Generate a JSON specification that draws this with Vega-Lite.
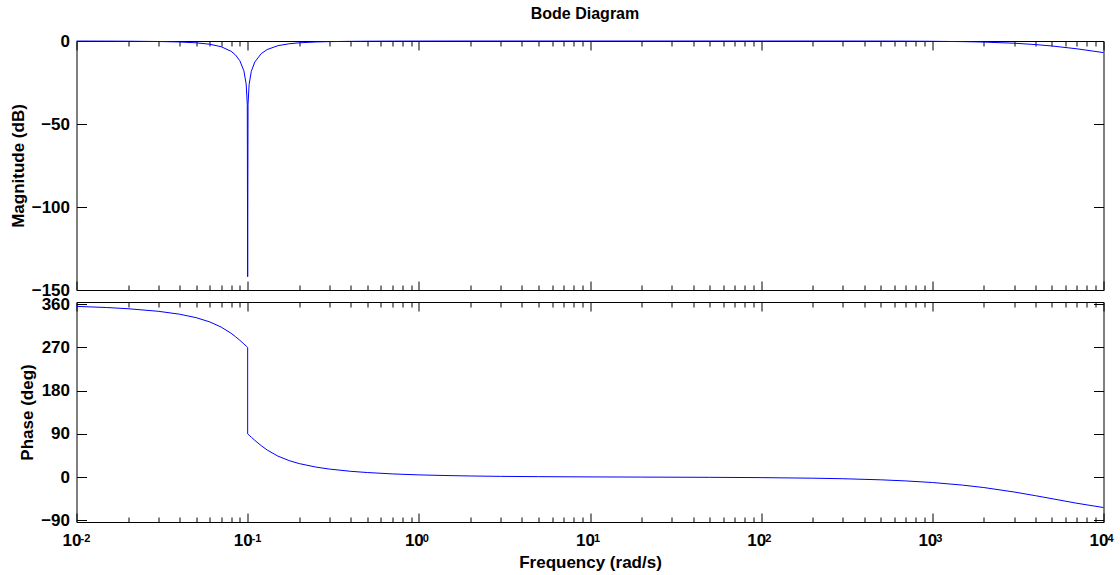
{
  "$schema": "https://vega.github.io/schema/vega-lite/v6.json",
  "background": "white",
  "padding": {"left": 8.5, "top": 5, "right": 0, "bottom": 0},
  "datasets": {
    "bode": [
      {"i": 1, "w": 0.01, "mag": -0.028, "ph": 355.4},
      {"i": 2, "w": 0.015, "mag": -0.065, "ph": 353.0},
      {"i": 3, "w": 0.02, "mag": -0.119, "ph": 350.5},
      {"i": 4, "w": 0.03, "mag": -0.292, "ph": 345.2},
      {"i": 5, "w": 0.04, "mag": -0.589, "ph": 339.1},
      {"i": 6, "w": 0.05, "mag": -1.087, "ph": 331.9},
      {"i": 7, "w": 0.06, "mag": -1.938, "ph": 323.1},
      {"i": 8, "w": 0.07, "mag": -3.436, "ph": 312.3},
      {"i": 9, "w": 0.08, "mag": -6.191, "ph": 299.4},
      {"i": 10, "w": 0.085, "mag": -8.453, "ph": 292.2},
      {"i": 11, "w": 0.09, "mag": -11.864, "ph": 284.8},
      {"i": 12, "w": 0.095, "mag": -17.907, "ph": 277.3},
      {"i": 13, "w": 0.098, "mag": -25.943, "ph": 272.9},
      {"i": 14, "w": 0.0995, "mag": -38.04, "ph": 270.7},
      {"i": 15, "w": 0.1, "mag": -142, "ph": 270},
      {"i": 16, "w": 0.1, "mag": -142, "ph": 90},
      {"i": 17, "w": 0.1005, "mag": -38.09, "ph": 89.3},
      {"i": 18, "w": 0.102, "mag": -26.11, "ph": 87.2},
      {"i": 19, "w": 0.105, "mag": -18.34, "ph": 83.0},
      {"i": 20, "w": 0.11, "mag": -12.69, "ph": 76.6},
      {"i": 21, "w": 0.12, "mag": -7.61, "ph": 65.4},
      {"i": 22, "w": 0.13, "mag": -5.15, "ph": 56.4},
      {"i": 23, "w": 0.15, "mag": -2.84, "ph": 43.8},
      {"i": 24, "w": 0.175, "mag": -1.65, "ph": 34.2},
      {"i": 25, "w": 0.2, "mag": -1.09, "ph": 28.1},
      {"i": 26, "w": 0.25, "mag": -0.59, "ph": 20.9},
      {"i": 27, "w": 0.3, "mag": -0.37, "ph": 16.7},
      {"i": 28, "w": 0.4, "mag": -0.19, "ph": 12.0},
      {"i": 29, "w": 0.5, "mag": -0.12, "ph": 9.5},
      {"i": 30, "w": 0.7, "mag": -0.06, "ph": 6.6},
      {"i": 31, "w": 1, "mag": -0.03, "ph": 4.6},
      {"i": 32, "w": 1.5, "mag": -0.012, "ph": 3.1},
      {"i": 33, "w": 2, "mag": -0.007, "ph": 2.3},
      {"i": 34, "w": 3, "mag": -0.003, "ph": 1.5},
      {"i": 35, "w": 5, "mag": -0.001, "ph": 0.9},
      {"i": 36, "w": 10, "mag": -0.001, "ph": 0.35},
      {"i": 37, "w": 20, "mag": -0.001, "ph": 0.0},
      {"i": 38, "w": 50, "mag": -0.001, "ph": -0.5},
      {"i": 39, "w": 100, "mag": -0.002, "ph": -1.1},
      {"i": 40, "w": 200, "mag": -0.007, "ph": -2.3},
      {"i": 41, "w": 300, "mag": -0.016, "ph": -3.4},
      {"i": 42, "w": 500, "mag": -0.043, "ph": -5.7},
      {"i": 43, "w": 700, "mag": -0.084, "ph": -8.0},
      {"i": 44, "w": 1000, "mag": -0.17, "ph": -11.3},
      {"i": 45, "w": 1500, "mag": -0.374, "ph": -16.7},
      {"i": 46, "w": 2000, "mag": -0.645, "ph": -21.8},
      {"i": 47, "w": 3000, "mag": -1.335, "ph": -31.0},
      {"i": 48, "w": 4000, "mag": -2.148, "ph": -38.7},
      {"i": 49, "w": 5000, "mag": -3.01, "ph": -45.0},
      {"i": 50, "w": 7000, "mag": -4.713, "ph": -54.5},
      {"i": 51, "w": 10000, "mag": -6.99, "ph": -63.4}
    ],
    "dec": [
      {"w": 0.01, "e": "-2"},
      {"w": 0.1, "e": "-1"},
      {"w": 1, "e": "0"},
      {"w": 10, "e": "1"},
      {"w": 100, "e": "2"},
      {"w": 1000, "e": "3"},
      {"w": 10000, "e": "4"}
    ]
  },
  "config": {
    "view": {"stroke": "black", "strokeWidth": 1},
    "font": "Liberation Sans",
    "axis": {
      "domain": false,
      "grid": false,
      "minExtent": 0,
      "labelFont": "Liberation Sans",
      "labelFontWeight": "bold",
      "labelFontSize": 17,
      "labelColor": "black",
      "tickColor": "black",
      "titleFont": "Liberation Sans",
      "titleFontWeight": "bold",
      "titleFontSize": 17,
      "titleColor": "black"
    }
  },
  "bounds": "flush",
  "spacing": 12,
  "vconcat": [
    {
      "title": {"text": "Bode Diagram", "fontSize": 16, "fontWeight": "bold", "font": "Liberation Sans", "color": "black", "anchor": "middle", "frame": "group", "offset": 10, "dx": -5},
      "width": 1027,
      "height": 249,
      "data": {"name": "bode"},
      "layer": [
        {
          "mark": {"type": "line", "color": "#0000ff", "strokeWidth": 1},
          "encoding": {
            "x": {"field": "w", "type": "quantitative",
              "scale": {"type": "log", "domain": [0.01, 10000], "nice": false},
              "axis": {"orient": "bottom", "title": null, "labels": false,
                "values": [0.01,0.02,0.03,0.04,0.05,0.06,0.07,0.08,0.09,0.1,0.2,0.3,0.4,0.5,0.6,0.7,0.8,0.9,1,2,3,4,5,6,7,8,9,10,20,30,40,50,60,70,80,90,100,200,300,400,500,600,700,800,900,1000,2000,3000,4000,5000,6000,7000,8000,9000,10000],
                "tickSize": {"condition": {"test": "abs(log(datum.value)/LN10 - round(log(datum.value)/LN10)) < 0.000001", "value": -9}, "value": -5}}},
            "y": {"field": "mag", "type": "quantitative",
              "scale": {"domain": [-150, 0], "nice": false, "zero": false},
              "axis": {"orient": "left", "title": "Magnitude (dB)", "values": [0, -50, -100, -150], "tickSize": -10, "labelPadding": 17, "titlePadding": 4}},
            "order": {"field": "i", "type": "quantitative"}
          }
        },
        {
          "mark": {"type": "line", "opacity": 0},
          "encoding": {
            "x": {"field": "w", "type": "quantitative",
              "scale": {"type": "log", "domain": [0.01, 10000], "nice": false},
              "axis": {"orient": "top", "title": null, "labels": false,
                "values": [0.01,0.02,0.03,0.04,0.05,0.06,0.07,0.08,0.09,0.1,0.2,0.3,0.4,0.5,0.6,0.7,0.8,0.9,1,2,3,4,5,6,7,8,9,10,20,30,40,50,60,70,80,90,100,200,300,400,500,600,700,800,900,1000,2000,3000,4000,5000,6000,7000,8000,9000,10000],
                "tickSize": {"condition": {"test": "abs(log(datum.value)/LN10 - round(log(datum.value)/LN10)) < 0.000001", "value": -9}, "value": -5}}},
            "y": {"field": "mag", "type": "quantitative",
              "scale": {"domain": [-150, 0], "nice": false, "zero": false},
              "axis": {"orient": "right", "title": null, "labels": false, "values": [0, -50, -100, -150], "tickSize": -10}},
            "order": {"field": "i", "type": "quantitative"}
          }
        }
      ],
      "resolve": {"axis": {"x": "independent", "y": "independent"}}
    },
    {
      "width": 1027,
      "height": 220,
      "layer": [
        {
          "data": {"name": "bode"},
          "mark": {"type": "line", "color": "#0000ff", "strokeWidth": 1},
          "encoding": {
            "x": {"field": "w", "type": "quantitative",
              "scale": {"type": "log", "domain": [0.01, 10000], "nice": false},
              "axis": {"orient": "bottom", "title": "Frequency  (rad/s)", "titlePadding": 2,
                "labelExpr": "abs(log(datum.value)/LN10 - round(log(datum.value)/LN10)) < 0.000001 ? '10' : ''",
                "labelFontSize": 17, "labelOffset": -5, "labelPadding": 19, "labelFlush": false, "labelOverlap": false,
                "values": [0.01,0.02,0.03,0.04,0.05,0.06,0.07,0.08,0.09,0.1,0.2,0.3,0.4,0.5,0.6,0.7,0.8,0.9,1,2,3,4,5,6,7,8,9,10,20,30,40,50,60,70,80,90,100,200,300,400,500,600,700,800,900,1000,2000,3000,4000,5000,6000,7000,8000,9000,10000],
                "tickSize": {"condition": {"test": "abs(log(datum.value)/LN10 - round(log(datum.value)/LN10)) < 0.000001", "value": -9}, "value": -5}}},
            "y": {"field": "ph", "type": "quantitative",
              "scale": {"domain": [-93.5, 364.5], "nice": false, "zero": false},
              "axis": {"orient": "left", "title": "Phase (deg)", "values": [360, 270, 180, 90, 0, -90], "tickSize": -10, "labelPadding": 17, "titlePadding": 4}},
            "order": {"field": "i", "type": "quantitative"}
          }
        },
        {
          "data": {"name": "bode"},
          "mark": {"type": "line", "opacity": 0},
          "encoding": {
            "x": {"field": "w", "type": "quantitative",
              "scale": {"type": "log", "domain": [0.01, 10000], "nice": false},
              "axis": {"orient": "top", "title": null, "labels": false,
                "values": [0.01,0.02,0.03,0.04,0.05,0.06,0.07,0.08,0.09,0.1,0.2,0.3,0.4,0.5,0.6,0.7,0.8,0.9,1,2,3,4,5,6,7,8,9,10,20,30,40,50,60,70,80,90,100,200,300,400,500,600,700,800,900,1000,2000,3000,4000,5000,6000,7000,8000,9000,10000],
                "tickSize": {"condition": {"test": "abs(log(datum.value)/LN10 - round(log(datum.value)/LN10)) < 0.000001", "value": -9}, "value": -5}}},
            "y": {"field": "ph", "type": "quantitative",
              "scale": {"domain": [-93.5, 364.5], "nice": false, "zero": false},
              "axis": {"orient": "right", "title": null, "labels": false, "values": [360, 270, 180, 90, 0, -90], "tickSize": -10}},
            "order": {"field": "i", "type": "quantitative"}
          }
        },
        {
          "data": {"name": "dec"},
          "mark": {"type": "text", "align": "left", "baseline": "top", "dx": 4, "dy": 11, "fontSize": 11, "fontWeight": "bold", "font": "Liberation Sans", "color": "black"},
          "encoding": {
            "x": {"field": "w", "type": "quantitative", "scale": {"type": "log", "domain": [0.01, 10000], "nice": false}, "axis": null},
            "y": {"datum": -93.5, "type": "quantitative", "axis": null},
            "text": {"field": "e"}
          }
        }
      ],
      "resolve": {"axis": {"x": "independent", "y": "independent"}}
    }
  ]
}
